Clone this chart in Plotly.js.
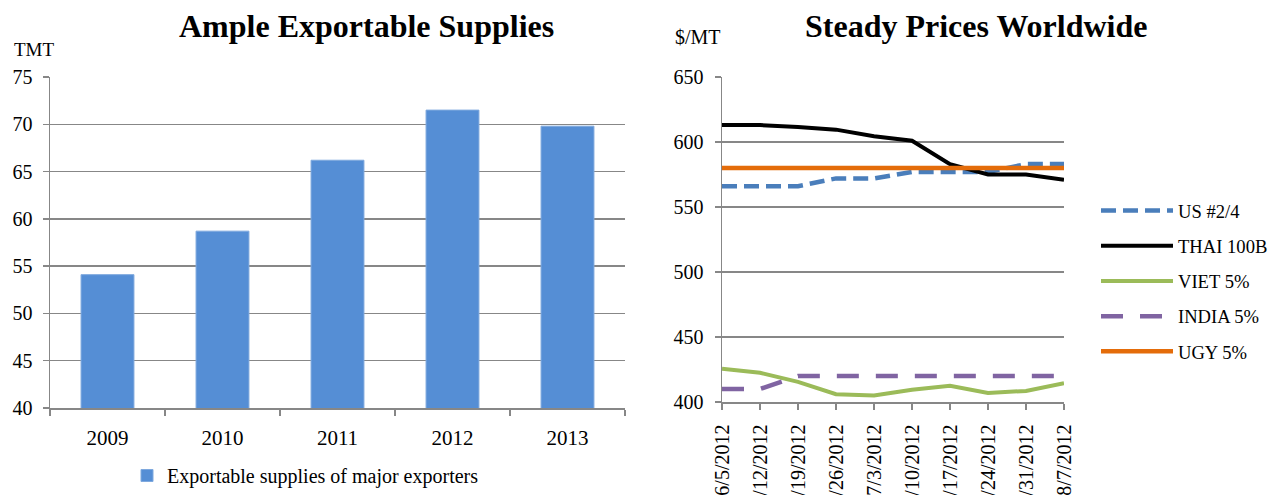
<!DOCTYPE html>
<html>
<head>
<meta charset="utf-8">
<script src="https://cdn.plot.ly/plotly-3.0.1.min.js"></script>
<style>
html,body{margin:0;padding:0;background:#fff;width:1273px;height:495px;overflow:hidden;}
#chart{width:1273px;height:495px;overflow:hidden;}
</style>
</head>
<body>
<div id="chart"></div>
<script>
// Left chart data
const years = ['2009', '2010', '2011', '2012', '2013'];
const supplies = [54.1, 58.7, 66.2, 71.5, 69.8];

// Right chart data
const dates = ['6/5/2012', '6/12/2012', '6/19/2012', '6/26/2012', '7/3/2012',
               '7/10/2012', '7/17/2012', '7/24/2012', '7/31/2012', '8/7/2012'];
const usPrice    = [566, 566, 566, 572, 572, 577, 577, 577, 583, 583];
const thaiPrice  = [613, 613, 611.5, 609.5, 604.5, 601, 583, 575, 575, 571];
const vietPrice  = [425.5, 422.5, 415.5, 406, 405, 409.5, 412.5, 407, 408.5, 414.5];
const indiaPrice = [410, 410, 420, 420, 420, 420, 420, 420, 420, 420];
const ugyPrice   = [580, 580, 580, 580, 580, 580, 580, 580, 580, 580];

const FONT = '"Liberation Serif", "Times New Roman", Times, serif';
const GRID = '#878787';

const traces = [
  {type: 'bar', x: years, y: supplies, xaxis: 'x', yaxis: 'y',
   name: 'Exportable supplies of major exporters',
   marker: {color: '#558ED5', line: {color: '#7FA9DE', width: 1}},
   legend: 'legend'},
  {type: 'scatter', mode: 'lines', x: dates, y: usPrice, xaxis: 'x2', yaxis: 'y2',
   name: 'US #2/4', legendgroup: 'g1',
   line: {color: '#4A7EBB', width: 4.5, dash: '15px,7px'}, legend: 'legend2'},
  {type: 'scatter', mode: 'lines', x: dates, y: thaiPrice, xaxis: 'x2', yaxis: 'y2',
   name: 'THAI 100B', legendgroup: 'g2',
   line: {color: '#000000', width: 4}, legend: 'legend2'},
  {type: 'scatter', mode: 'lines', x: dates, y: vietPrice, xaxis: 'x2', yaxis: 'y2',
   name: 'VIET 5%', legendgroup: 'g3',
   line: {color: '#9BBB59', width: 4}, legend: 'legend2'},
  {type: 'scatter', mode: 'lines', x: dates, y: indiaPrice, xaxis: 'x2', yaxis: 'y2',
   name: 'INDIA 5%', legendgroup: 'g4',
   line: {color: '#8064A2', width: 4.5, dash: '22px,17px'}, legend: 'legend2'},
  {type: 'scatter', mode: 'lines', x: dates, y: ugyPrice, xaxis: 'x2', yaxis: 'y2',
   name: 'UGY 5%', legendgroup: 'g5',
   line: {color: '#E46C0A', width: 4.5}, legend: 'legend2'}
];

const H = 495, W = 1273;
const layout = {
  width: W, height: H,
  margin: {l: 0, r: 0, t: 0, b: 0},
  paper_bgcolor: '#ffffff', plot_bgcolor: '#ffffff',
  font: {family: FONT, size: 18, color: '#000'},
  bargap: 0.54,
  xaxis: {
    domain: [50 / W, 625 / W], anchor: 'y', type: 'category',
    showline: true, linecolor: GRID, linewidth: 1.5,
    ticks: 'outside', tickson: 'boundaries', ticklen: 6, tickcolor: GRID, tickwidth: 1.5,
    showgrid: false, ticklabelstandoff: 10, automargin: false,
    tickfont: {family: FONT, size: 21, color: '#000'}
  },
  yaxis: {
    domain: [1 - 408 / H, 1 - 77 / H], anchor: 'x',
    range: [40, 75], dtick: 5, tick0: 40,
    showline: true, linecolor: GRID, linewidth: 1.5,
    ticks: 'outside', ticklen: 6, tickcolor: GRID, tickwidth: 1.5,
    showgrid: true, gridcolor: GRID, gridwidth: 1.5, zeroline: false,
    ticklabelstandoff: 6, automargin: false,
    tickfont: {family: FONT, size: 20, color: '#000'}
  },
  xaxis2: {
    domain: [722 / W, 1064 / W], anchor: 'y2', type: 'category',
    range: [0, 9],
    showline: true, linecolor: GRID, linewidth: 1.5,
    ticks: 'outside', ticklen: 6, tickcolor: GRID, tickwidth: 1.5,
    showgrid: false, tickangle: -90, ticklabelstandoff: 7, automargin: false,
    tickfont: {family: FONT, size: 20, color: '#000'}
  },
  yaxis2: {
    domain: [1 - 402 / H, 1 - 77 / H], anchor: 'x2',
    range: [400, 650], dtick: 50, tick0: 400,
    showline: true, linecolor: GRID, linewidth: 1.5,
    ticks: 'outside', ticklen: 6, tickcolor: GRID, tickwidth: 1.5,
    showgrid: true, gridcolor: GRID, gridwidth: 1.5, zeroline: false,
    ticklabelstandoff: 7, automargin: false,
    tickfont: {family: FONT, size: 20, color: '#000'}
  },
  legend: {
    x: 127 / W, y: 0, xanchor: 'left', yanchor: 'bottom',
    orientation: 'h', bgcolor: 'rgba(0,0,0,0)',
    font: {family: FONT, size: 20, color: '#000'},
    itemwidth: 30
  },
  legend2: {
    x: 1, y: 1 - 192 / H, xanchor: 'right', yanchor: 'top',
    orientation: 'v', bgcolor: 'rgba(0,0,0,0)', tracegroupgap: 8,
    font: {family: FONT, size: 18.6, color: '#000'},
    itemwidth: 72
  },
  showlegend: true,
  annotations: [
    {text: '<b>Ample Exportable Supplies</b>', xref: 'paper', yref: 'paper',
     x: 366 / W, y: 1 - 26 / H, xanchor: 'center', yanchor: 'middle', showarrow: false,
     font: {family: FONT, size: 32, color: '#000'}},
    {text: '<b>Steady Prices Worldwide</b>', xref: 'paper', yref: 'paper',
     x: 976 / W, y: 1 - 26 / H, xanchor: 'center', yanchor: 'middle', showarrow: false,
     font: {family: FONT, size: 32, color: '#000'}},
    {text: 'TMT', xref: 'paper', yref: 'paper',
     x: 12 / W, y: 1 - 49.5 / H, xanchor: 'left', yanchor: 'middle', showarrow: false,
     font: {family: FONT, size: 19, color: '#000'}},
    {text: '$/MT', xref: 'paper', yref: 'paper',
     x: 673 / W, y: 1 - 37 / H, xanchor: 'left', yanchor: 'middle', showarrow: false,
     font: {family: FONT, size: 20, color: '#000'}}
  ]
};

Plotly.newPlot('chart', traces, layout, {displayModeBar: false, staticPlot: true});
</script>
</body>
</html>
